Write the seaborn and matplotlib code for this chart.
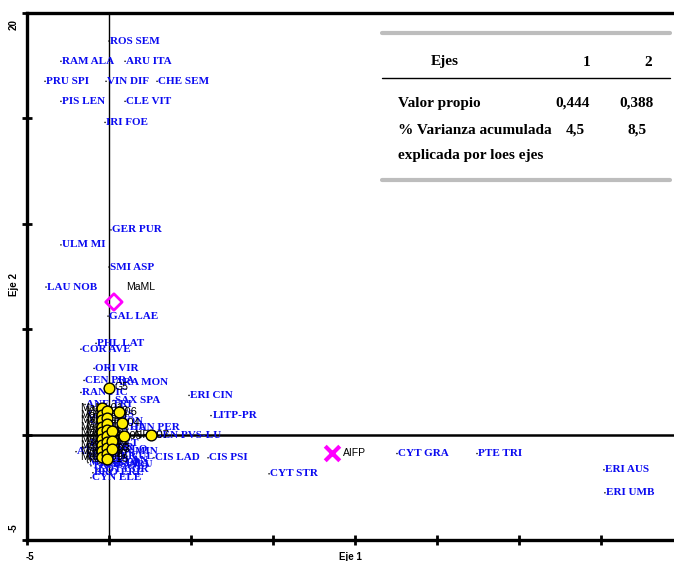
import matplotlib
matplotlib.use("Agg")
import matplotlib.pyplot as plt
import seaborn as sns
import pandas as pd
from matplotlib.lines import Line2D

# --- Species scores (axis 1, axis 2) ---
species = ["ROS SEM", "RAM ALA", "ARU ITA", "PRU SPI", "VIN DIF", "CHE SEM",
           "PIS LEN", "CLE VIT", "IRI FOE", "GER PUR", "ULM MI", "SMI ASP",
           "LAU NOB", "GAL LAE", "PHL LAT", "COR AVE", "ORI VIR", "CEN PRA",
           "ARA MON", "RAN FIC", "ANE TRI", "SAX SPA", "ERI CIN", "LITP-PR",
           "JUN PER", "GEN PVS-LU", "CIS LAD", "CIS PSI", "CYT STR", "CYT GRA",
           "PTE TRI", "ERI AUS", "ERI UMB", "ATR BEL", "CYN ELE",
           "BRA RET", "DAC GLO", "HYP PER", "PLA LAN", "TRI CAM", "LOT COR",
           "MED LUP", "THY VUL", "SAN MIN", "FES ARU", "BRO ERE", "RUB ULA",
           "CAR HIR", "GEN HIS", "CRA MON", "TEU CHA"]
sp_x = [0.00, -2.93, 0.98, -3.90, -0.18, 2.93,
        -2.93, 0.98, -0.24, 0.12, -2.93, 0.00,
        -3.84, -0.06, -0.79, -1.71, -0.91, -1.52,
        0.30, -1.71, -1.46, 0.30, 4.88, 6.22,
        1.40, 2.68, 2.74, 6.04, 9.76, 17.56,
        22.44, 30.18, 30.24, -2.01, -1.10,
        -1.22, -0.85, -1.34, -0.61, -1.10, -0.73,
        -1.28, -0.37, 0.00, -0.24, -0.98, -0.61,
        -1.46, -1.34, -1.22, -0.85]
sp_y = [18.67, 17.71, 17.71, 16.76, 16.76, 16.76,
        15.81, 15.81, 14.81, 9.71, 9.00, 7.95,
        7.00, 5.62, 4.33, 4.05, 3.14, 2.57,
        2.48, 2.00, 1.43, 1.62, 1.86, 0.90,
        0.33, -0.05, -1.10, -1.10, -1.86, -0.90,
        -0.90, -1.67, -2.76, -0.81, -2.05,
        -0.43, -0.71, -1.05, -1.24, -1.48, -1.67,
        -1.33, -1.05, -0.81, -1.43, -1.81, -1.38,
        -0.62, 0.95, 0.62, 0.33]

# --- Releve scores ---
rel_id = ["G5",
          "MaML01", "MaML02", "MaML03", "MaML04", "MaML05", "MaML06",
          "MaML07", "MaML08", "MaML09",
          "MaML10", "MaML11", "MaML12", "MaML13", "MaML14", "MaML15",
          "MaML16", "MaML17", "MaML18",
          "AIFP01", "AIFP02", "AIFP03",
          "AIFP04", "AIFP05", "AIFP06", "AIFP07"]
rel_x = [0.00,
         -0.43, -0.43, -0.43, -0.43, -0.43, -0.43, -0.43, -0.43, -0.43,
         -0.12, -0.12, -0.12, -0.12, -0.12, -0.12, -0.12, -0.12, -0.12,
         0.18, 0.18, 0.18,
         0.79, 0.92, 0.61, 2.56]
rel_y = [2.19,
         1.24, 0.95, 0.67, 0.38, 0.10, -0.19, -0.48, -0.76, -1.05,
         1.10, 0.81, 0.52, 0.24, -0.05, -0.33, -0.62, -0.90, -1.14,
         0.19, -0.29, -0.67,
         0.57, -0.05, 1.05, 0.00]

# --- Group centroids ---
group_names = ["MaML", "AIFP"]
group_x = [0.30, 13.60]
group_y = [6.29, -0.86]

# --- Eigenvalue summary ---
axes_hdr = ["Ejes", "1", "2"]
eigen = ["0,444", "0,388"]
cum_var = ["4,5", "8,5"]

sns.set_style("white")
plt.rcParams["font.family"] = ["Liberation Sans", "DejaVu Sans"]

fig = plt.figure(figsize=(6.74, 5.61), dpi=100)
ax = fig.add_axes([27 / 674, 21 / 561, 656 / 674, 527 / 561])
ax.set_xlim(-5, 35)
ax.set_ylim(-5, 20)

# reference lines through the origin
ax.axvline(0, color="black", lw=1.0, zorder=1)
ax.axhline(0, color="black", lw=1.8, zorder=1)

sp_df = pd.DataFrame({"x": sp_x, "y": sp_y, "name": species})
rel_df = pd.DataFrame({"x": rel_x, "y": rel_y, "id": rel_id})

# species: tiny black dots with blue labels
sns.scatterplot(data=sp_df, x="x", y="y", ax=ax, s=1.2, color="black",
                edgecolor="none", zorder=2, legend=False)
for _, r in sp_df.iterrows():
    ax.annotate(r["name"], (r["x"], r["y"]), xytext=(1.0, 0),
                textcoords="offset points", ha="left", va="center",
                fontsize=8, fontweight="bold", color="#0A0AF0",
                family="Liberation Serif", zorder=3)

# releves: black labels over the species, yellow circles on top
for _, r in rel_df.iterrows():
    if r["id"] == "G5":
        ax.annotate(r["id"], (r["x"], r["y"]), xytext=(4, 1),
                    textcoords="offset points", ha="left", va="center",
                    fontsize=7.5, color="black", zorder=4)
    else:
        ax.annotate(r["id"], (r["x"], r["y"]), xytext=(0, 0),
                    textcoords="offset points", ha="center", va="center",
                    fontsize=8, color="black", zorder=4)
sns.scatterplot(data=rel_df, x="x", y="y", ax=ax, s=60, color="#FFEE00",
                edgecolor="black", linewidth=1.0, zorder=5, legend=False)

# group centroids
ax.scatter(group_x[0], group_y[0], marker="D", s=70, facecolor="none",
           edgecolor="#FF00FF", linewidth=2, zorder=7)
ax.annotate(group_names[0], (group_x[0], group_y[0]), xytext=(9, 11),
            textcoords="offset points", ha="left", va="center",
            fontsize=7.5, color="black", zorder=7)
ax.scatter(group_x[1], group_y[1], marker="x", s=110, color="#FF00FF",
           linewidth=3, zorder=7)
ax.annotate(group_names[1], (group_x[1], group_y[1]), xytext=(8, 0),
            textcoords="offset points", ha="left", va="center",
            fontsize=7.5, color="black", zorder=7)

# frame and ticks
for side in ["left", "bottom", "top"]:
    ax.spines[side].set_linewidth(2.4)
    ax.spines[side].set_color("black")
ax.spines["right"].set_visible(False)
ax.set_xticks(range(-5, 36, 5))
ax.set_yticks(range(-5, 21, 5))
ax.set_xticklabels([])
ax.set_yticklabels([])
ax.tick_params(axis="both", direction="inout", length=7, width=2,
               color="black", bottom=True, left=True)
ax.set_xlabel("")
ax.set_ylabel("")

# axis annotations
lab_kw = dict(fontsize=7, fontweight="bold", color="black")
fig.text(30 / 674, 1 - 557 / 561, "-5", ha="center", va="center", **lab_kw)
fig.text(681 / 674, 1 - 557 / 561, "35", ha="center", va="center", **lab_kw)
fig.text(350 / 674, 1 - 557 / 561, "Eje 1", ha="center", va="center", **lab_kw)
fig.text(14 / 674, 1 - 25 / 561, "20", ha="center", va="center",
         rotation=90, **lab_kw)
fig.text(14 / 674, 1 - 528 / 561, "-5", ha="center", va="center",
         rotation=90, **lab_kw)
fig.text(14 / 674, 1 - 285 / 561, "Eje 2", ha="center", va="center",
         rotation=90, **lab_kw)

# eigenvalue table
def fx(px):
    return px / 674

def fy(py):
    return 1 - py / 561

fig.add_artist(Line2D([fx(382), fx(670)], [fy(33), fy(33)], color="#BDBDBD", lw=3))
fig.add_artist(Line2D([fx(382), fx(670)], [fy(180), fy(180)], color="#BDBDBD", lw=3))
fig.add_artist(Line2D([fx(382), fx(670)], [fy(78), fy(78)], color="black", lw=1))
tkw = dict(family="Liberation Serif", fontsize=11, fontweight="bold",
           color="black", va="center")
fig.text(fx(445), fy(62), axes_hdr[0], ha="center", **tkw)
fig.text(fx(587), fy(62), axes_hdr[1], ha="center", **tkw)
fig.text(fx(648), fy(62), axes_hdr[2], ha="center", **tkw)
fig.text(fx(398), fy(103), "Valor propio", ha="left", **tkw)
fig.text(fx(573), fy(103), eigen[0], ha="center", **tkw)
fig.text(fx(637), fy(103), eigen[1], ha="center", **tkw)
fig.text(fx(398), fy(130), "% Varianza acumulada", ha="left", **tkw)
fig.text(fx(575), fy(130), cum_var[0], ha="center", **tkw)
fig.text(fx(637), fy(130), cum_var[1], ha="center", **tkw)
fig.text(fx(398), fy(155), "explicada por loes ejes", ha="left", **tkw)

fig.savefig("out.png", dpi=100)
